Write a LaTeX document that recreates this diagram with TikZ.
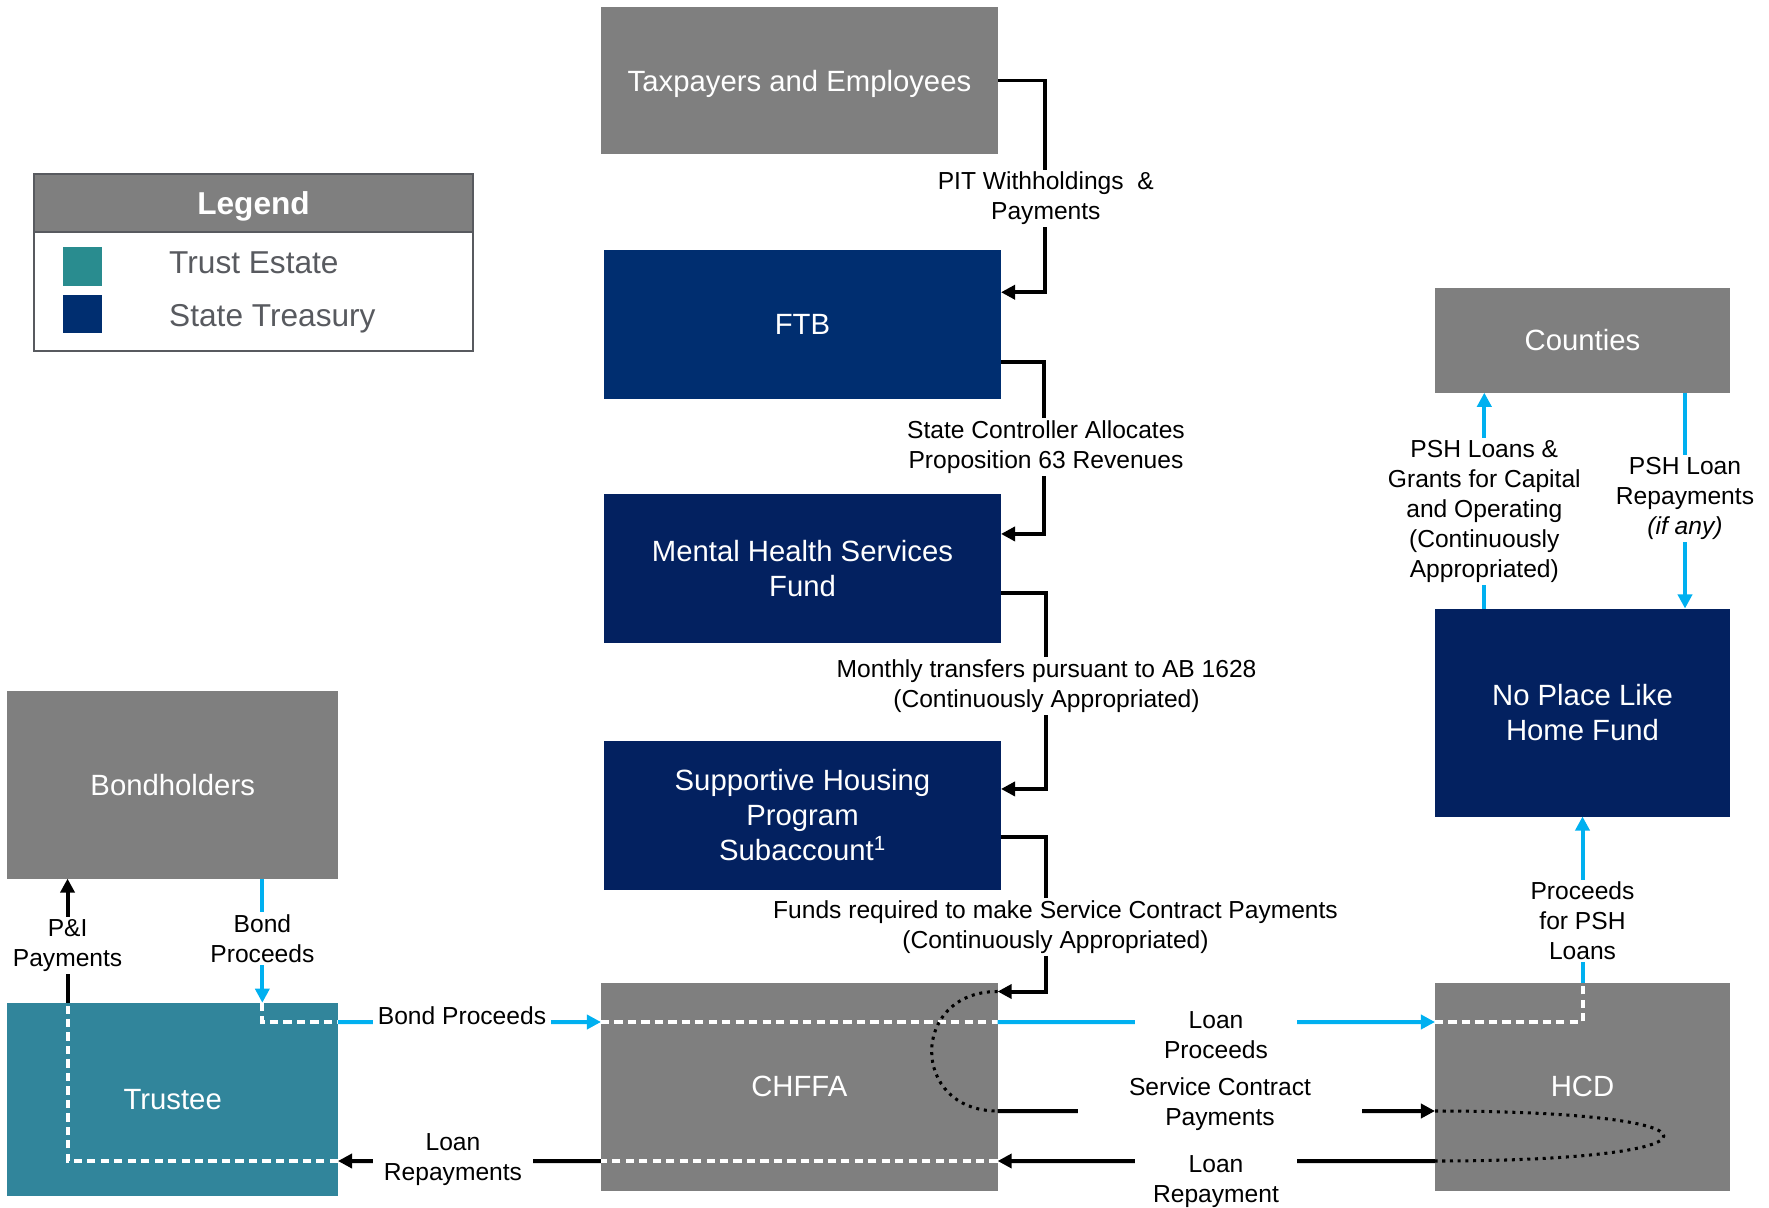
\documentclass[tikz,border=0pt]{standalone}
\usepackage{fontspec}
\setmainfont{Liberation Sans}
\usetikzlibrary{arrows.meta,calc}
\definecolor{boxgray}{RGB}{127,127,127}
\definecolor{ftbblue}{RGB}{0,46,112}
\definecolor{fundnavy}{RGB}{3,33,96}
\definecolor{trustteal}{RGB}{49,133,155}
\definecolor{legteal}{RGB}{41,140,143}
\definecolor{flowblue}{RGB}{0,176,240}
\definecolor{leggray}{RGB}{88,90,95}
\tikzset{
  box/.style={rectangle,inner sep=0pt,outer sep=0pt,text=white,align=center,font=\fontsize{25}{30}\selectfont},
  flow/.style={line width=3.4pt,-{Triangle[length=12pt,width=12pt]}},
  wdash/.style={white,line width=3.4pt,dash pattern=on 7pt off 4.5pt},
  loopdots/.style={black,line width=2.6pt,dash pattern=on 2.6pt off 4pt},
  lbl/.style={fill=white,inner sep=2pt,align=center,font=\fontsize{21}{25.5}\selectfont},
  legtxt/.style={text=leggray,inner sep=0pt,font=\fontsize{27}{32}\selectfont}
}
\begin{document}
\begin{tikzpicture}[x=0.03cm,y=-0.03cm]
\useasboundingbox (0,0) rectangle (1769,1207);
\node[box,fill=boxgray,minimum width=11.91cm,minimum height=4.428cm,text depth=0pt] (tax) at (799.5,80.5) {Taxpayers and Employees};
\node[box,fill=ftbblue,minimum width=11.91cm,minimum height=4.461cm] (ftb) at (802.5,324.3) {FTB};
\node[box,fill=fundnavy,minimum width=11.91cm,minimum height=4.461cm] (mhsf) at (802.5,568.3) {Mental Health Services\\Fund};
\node[box,fill=fundnavy,minimum width=11.91cm,minimum height=4.461cm] (shp) at (802.5,815.3) {Supportive Housing\\Program\\Subaccount\textsuperscript{1}};
\node[box,fill=boxgray,minimum width=11.9cm,minimum height=6.24cm] (chffa) at (799.3,1086.5) {CHFFA};
\node[box,fill=boxgray,minimum width=9.915cm,minimum height=5.64cm] (bond) at (172.7,784.6) {Bondholders};
\node[box,fill=trustteal,minimum width=9.915cm,minimum height=5.79cm] (trustee) at (172.7,1099.2) {Trustee};
\node[box,fill=boxgray,minimum width=8.85cm,minimum height=3.132cm] (counties) at (1582.5,340.5) {Counties};
\node[box,fill=fundnavy,minimum width=8.85cm,minimum height=6.24cm] (nplh) at (1582.5,712.5) {No Place Like\\Home Fund};
\node[box,fill=boxgray,minimum width=8.85cm,minimum height=6.24cm] (hcd) at (1582.5,1086.7) {HCD};

\node[fill=boxgray,draw=leggray,line width=2pt,minimum width=13.15cm,minimum height=1.731cm,inner sep=0pt,text depth=0pt,text=white,font=\fontsize{27}{32}\selectfont\bfseries] (leghead) at (253.5,202.85) {Legend};
\node[draw=leggray,line width=2pt,minimum width=13.15cm,minimum height=5.301cm,inner sep=0pt] (legend) at (253.5,262.35) {};
\node[fill=legteal,minimum size=1.155cm,inner sep=0pt] (sqtrust) at (82.3,266.5) {};
\node[fill=ftbblue,minimum size=1.155cm,inner sep=0pt] (sqstate) at (82.3,314.2) {};
\node[legtxt,anchor=base west] (txttrust) at (169,273.3) {Trust Estate};
\node[legtxt,anchor=base west] (txtstate) at (169,326.7) {State Treasury};

\draw[flow] (tax.east) -- ++(47,0) |- ($(ftb.north east)+(0,42.3)$);
\draw[flow] ($(ftb.north east)+(0,112.3)$) -- ++(43,0) |- ($(mhsf.north east)+(0,40)$);
\draw[flow] ($(mhsf.north east)+(0,98.7)$) -- ++(44.7,0) |- ($(shp.north east)+(0,48)$);
\draw[flow] ($(shp.north east)+(0,95.8)$) -- ++(44.8,0) |- ($(chffa.north east)+(0,9)$);

\draw[flow,flowblue] ($(bond.south west)+(254.9,0)$) -- ($(trustee.north west)+(254.9,0)$);
\draw[wdash] ($(trustee.north west)+(254.9,0)$) |- ($(trustee.north east)+(0,19.3)$);
\draw[flow,flowblue] ($(trustee.north east)+(0,19.3)$) -- ($(chffa.north west)+(0,39.5)$);
\draw[wdash] ($(chffa.north west)+(0,39.5)$) -- ($(chffa.north east)+(0,39.5)$);
\draw[flow,flowblue] ($(chffa.north east)+(0,39.5)$) -- ($(hcd.north west)+(0,39.3)$);
\draw[wdash] ($(hcd.north west)+(0,39.3)$) -| (hcd.north);
\draw[flow,flowblue] (hcd.north) -- (nplh.south);
\draw[flow,flowblue] ($(nplh.north west)+(49.3,0)$) -- ($(counties.south west)+(49.3,0)$);
\draw[flow,flowblue] ($(counties.south west)+(250,0)$) -- ($(nplh.north west)+(250,0)$);

\draw[flow] ($(chffa.north east)+(0,128.5)$) -- ($(hcd.north west)+(0,128.3)$);
\draw[flow] ($(hcd.north west)+(0,178.3)$) -- ($(chffa.north east)+(0,178.5)$);
\draw[wdash] ($(chffa.north east)+(0,178.5)$) -- ($(chffa.north west)+(0,178.5)$);
\draw[flow] ($(chffa.north west)+(0,178.5)$) -- ($(trustee.north east)+(0,158.3)$);
\draw[wdash] ($(trustee.north east)+(0,158.3)$) -| ($(trustee.north west)+(60.1,0)$);
\draw[flow] ($(trustee.north west)+(60.1,0)$) -- ($(bond.south west)+(60.1,0)$);

\draw[loopdots] ($(chffa.north east)+(0,9)$) .. controls +(-88,0) and +(-88,0) .. ($(chffa.north east)+(0,128.5)$);
\draw[loopdots] ($(hcd.north west)+(0,128.3)$) .. controls +(305,0) and +(305,0) .. ($(hcd.north west)+(0,178.3)$);

\node[lbl] (pitlbl) at (1045.8,198.5) {PIT Withholdings\ \ \&\\Payments};
\node[lbl] (sclbl) at (1046,447) {State Controller Allocates\\Proposition 63 Revenues};
\node[lbl] (ablbl) at (1046.5,686) {Monthly transfers pursuant to AB 1628\\(Continuously Appropriated)};
\node[lbl] (fundslbl) at (1055.5,927) {Funds required to make Service Contract Payments\\(Continuously Appropriated)};
\node[lbl] (bondlbl) at (262.4,938.6) {Bond\\Proceeds};
\node[lbl] (pilbl) at (67.6,945.7) {P\&I\\Payments};
\node[lbl,minimum width=5.34cm,minimum height=0.9cm] (bondproclbl) at (462,1016) {Bond Proceeds};
\node[lbl,minimum width=4.87cm] (loanproclbl) at (1216,1035) {Loan\\Proceeds};
\node[lbl,minimum width=8.5cm] (svclbl) at (1220,1104) {Service Contract\\Payments};
\node[lbl,minimum width=4.87cm] (loanrepaylbl) at (1216,1181.7) {Loan\\Repayment};
\node[lbl,minimum width=4.8cm] (repaylbl) at (453,1160) {Loan\\Repayments};
\node[lbl] (psh1lbl) at (1484.3,511.5) {PSH Loans \&\\Grants for Capital\\and Operating\\(Continuously\\Appropriated)};
\node[lbl] (psh2lbl) at (1685,498.5) {PSH Loan\\Repayments\\\textit{(if any)}};
\node[lbl] (pshproclbl) at (1582.5,921) {Proceeds\\for PSH\\Loans};
\end{tikzpicture}
\end{document}
